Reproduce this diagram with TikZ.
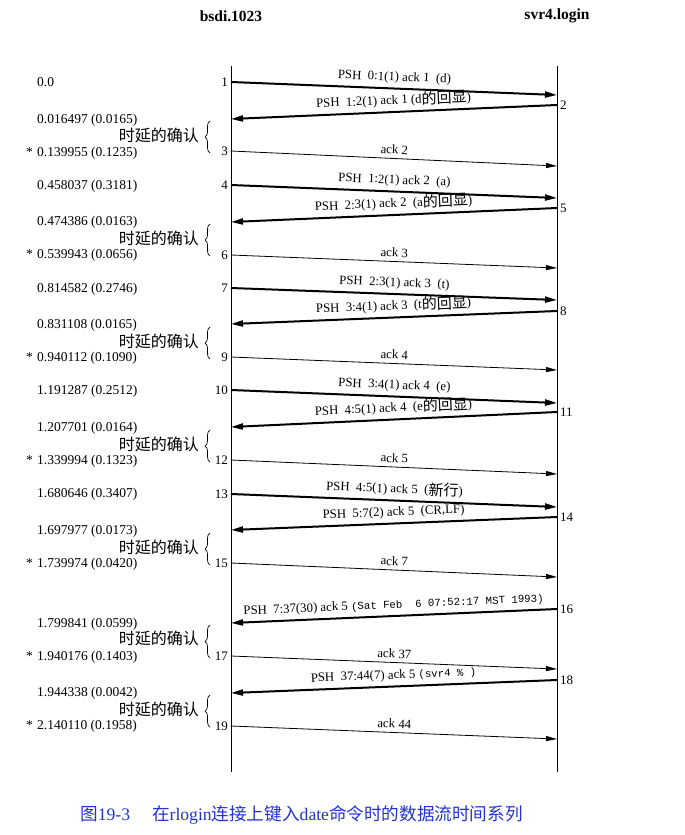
\documentclass[tikz,border=0pt]{standalone}
\usepackage{fontspec}
\setmainfont{Liberation Serif}
\setmonofont{Liberation Mono}
\newfontfamily\cjk{Noto Sans CJK SC}
\usetikzlibrary{arrows.meta,decorations.pathreplacing}
\definecolor{capblue}{RGB}{35,50,215}
\newcommand{\cj}[1]{\raisebox{-1.2pt}{\cjk\fontsize{15}{17}\selectfont #1}}
\newcommand{\mono}[1]{{\fontsize{10.7}{12}\ttfamily #1}}
\tikzset{
  life/.style={line width=0.9pt},
  heavy/.style={line width=2pt,-{Triangle[length=12pt,width=6pt]}},
  thinarr/.style={line width=0.8pt,-{Triangle[length=11pt,width=5pt]}},
  lbl/.style={midway,sloped,above=3pt,inner sep=1pt,font=\fontsize{12.8}{14}\selectfont},
  numL/.style={anchor=base east,inner sep=0pt,font=\fontsize{13}{15}\selectfont},
  numR/.style={anchor=base west,inner sep=0pt,font=\fontsize{13}{15}\selectfont},
  tm/.style={anchor=base west,inner sep=0pt,font=\fontsize{13.5}{15}\selectfont},
  dly/.style={anchor=east,inner sep=0pt,font=\cjk\fontsize{16}{18}\selectfont},
  brc/.style={decorate,decoration={brace,amplitude=5pt},line width=0.7pt},
  head/.style={inner sep=0pt,font=\bfseries\fontsize{15.5}{17}\selectfont},
  captxt/.style={anchor=west,inner sep=0pt,text=capblue,font=\fontsize{17.6}{19}\selectfont},
}
\begin{document}
\begin{tikzpicture}[x=1pt,y=-1pt]
\useasboundingbox (0,0) rectangle (685,835);
% headers
\node[head] (hL) at (231,16) {bsdi.1023};
\node[head] (hR) at (557,16) {svr4.login};
% lifelines
\coordinate (Ltop) at (231,66); \coordinate (Lbot) at (231,772);
\coordinate (Rtop) at (557,66); \coordinate (Rbot) at (557,772);
\draw[life] (Ltop) -- (Lbot);
\draw[life] (Rtop) -- (Rbot);
% message end points
\coordinate (a1) at (231,82);  \coordinate (b1) at (557,95);
\coordinate (b2) at (557,105); \coordinate (a2) at (231,119);
\coordinate (a3) at (231,151); \coordinate (b3) at (557,166);
\coordinate (a4) at (231,185); \coordinate (b4) at (557,198);
\coordinate (b5) at (557,208); \coordinate (a5) at (231,222);
\coordinate (a6) at (231,255); \coordinate (b6) at (557,268);
\coordinate (a7) at (231,288); \coordinate (b7) at (557,300);
\coordinate (b8) at (557,311); \coordinate (a8) at (231,324);
\coordinate (a9) at (231,357); \coordinate (b9) at (557,370);
\coordinate (a10) at (231,390); \coordinate (b10) at (557,403);
\coordinate (b11) at (557,412); \coordinate (a11) at (231,427);
\coordinate (a12) at (231,460); \coordinate (b12) at (557,474);
\coordinate (a13) at (231,494); \coordinate (b13) at (557,507);
\coordinate (b14) at (557,517); \coordinate (a14) at (231,530);
\coordinate (a15) at (231,563); \coordinate (b15) at (557,577);
\coordinate (b16) at (557,609); \coordinate (a16) at (231,623);
\coordinate (a17) at (231,656); \coordinate (b17) at (557,669);
\coordinate (b18) at (557,680); \coordinate (a18) at (231,693);
\coordinate (a19) at (231,726); \coordinate (b19) at (557,739);
% messages
\draw[heavy] (a1) -- (b1) node[lbl] (m1) {PSH\ \ 0:1(1) ack 1\ \ (d)};
\draw[heavy] (b2) -- (a2) node[lbl] (m2) {PSH\ \ 1:2(1) ack 1 (d\cj{的回显})};
\draw[thinarr] (a3) -- (b3) node[lbl] (m3) {ack 2};
\draw[heavy] (a4) -- (b4) node[lbl] (m4) {PSH\ \ 1:2(1) ack 2\ \ (a)};
\draw[heavy] (b5) -- (a5) node[lbl] (m5) {PSH\ \ 2:3(1) ack 2\ \ (a\cj{的回显})};
\draw[thinarr] (a6) -- (b6) node[lbl] (m6) {ack 3};
\draw[heavy] (a7) -- (b7) node[lbl] (m7) {PSH\ \ 2:3(1) ack 3\ \ (t)};
\draw[heavy] (b8) -- (a8) node[lbl] (m8) {PSH\ \ 3:4(1) ack 3\ \ (t\cj{的回显})};
\draw[thinarr] (a9) -- (b9) node[lbl] (m9) {ack 4};
\draw[heavy] (a10) -- (b10) node[lbl] (m10) {PSH\ \ 3:4(1) ack 4\ \ (e)};
\draw[heavy] (b11) -- (a11) node[lbl] (m11) {PSH\ \ 4:5(1) ack 4\ \ (e\cj{的回显})};
\draw[thinarr] (a12) -- (b12) node[lbl] (m12) {ack 5};
\draw[heavy] (a13) -- (b13) node[lbl] (m13) {PSH\ \ 4:5(1) ack 5\ \ (\cj{新行})};
\draw[heavy] (b14) -- (a14) node[lbl] (m14) {PSH\ \ 5:7(2) ack 5\ \ (CR,LF)};
\draw[thinarr] (a15) -- (b15) node[lbl] (m15) {ack 7};
\draw[heavy] (b16) -- (a16) node[lbl] (m16) {PSH\ \ 7:37(30) ack 5 \mono{(Sat Feb\ \ 6 07:52:17 MST 1993)}};
\draw[thinarr] (a17) -- (b17) node[lbl] (m17) {ack 37};
\draw[heavy] (b18) -- (a18) node[lbl] (m18) {PSH\ \ 37:44(7) ack 5 \mono{(svr4 \% )}};
\draw[thinarr] (a19) -- (b19) node[lbl] (m19) {ack 44};
% segment numbers
\node[numL] (n1) at (228,86) {1};
\node[numR] (n2) at (560,109) {2};
\node[numL] (n3) at (228,155) {3};
\node[numL] (n4) at (228,189) {4};
\node[numR] (n5) at (560,212) {5};
\node[numL] (n6) at (228,259) {6};
\node[numL] (n7) at (228,292) {7};
\node[numR] (n8) at (560,315) {8};
\node[numL] (n9) at (228,361) {9};
\node[numL] (n10) at (228,394) {10};
\node[numR] (n11) at (560,416) {11};
\node[numL] (n12) at (228,464) {12};
\node[numL] (n13) at (228,498) {13};
\node[numR] (n14) at (560,521) {14};
\node[numL] (n15) at (228,567) {15};
\node[numR] (n16) at (560,613) {16};
\node[numL] (n17) at (228,660) {17};
\node[numR] (n18) at (560,684) {18};
\node[numL] (n19) at (228,730) {19};
% times
\node[tm] (t1) at (37,86) {0.0};
\node[tm] (t2) at (37,123) {0.016497 (0.0165)};
\node[tm] (t3) at (37,156) {0.139955 (0.1235)};
\node[tm] (t4) at (37,189) {0.458037 (0.3181)};
\node[tm] (t5) at (37,225) {0.474386 (0.0163)};
\node[tm] (t6) at (37,258) {0.539943 (0.0656)};
\node[tm] (t7) at (37,292) {0.814582 (0.2746)};
\node[tm] (t8) at (37,328) {0.831108 (0.0165)};
\node[tm] (t9) at (37,361) {0.940112 (0.1090)};
\node[tm] (t10) at (37,394) {1.191287 (0.2512)};
\node[tm] (t11) at (37,431) {1.207701 (0.0164)};
\node[tm] (t12) at (37,464) {1.339994 (0.1323)};
\node[tm] (t13) at (37,497) {1.680646 (0.3407)};
\node[tm] (t14) at (37,534) {1.697977 (0.0173)};
\node[tm] (t15) at (37,567) {1.739974 (0.0420)};
\node[tm] (t16) at (37,627) {1.799841 (0.0599)};
\node[tm] (t17) at (37,660) {1.940176 (0.1403)};
\node[tm] (t18) at (37,696) {1.944338 (0.0042)};
\node[tm] (t19) at (37,729) {2.140110 (0.1958)};
% stars
\node[tm] (s3) at (26,156) {*};
\node[tm] (s6) at (26,258) {*};
\node[tm] (s9) at (26,361) {*};
\node[tm] (s12) at (26,464) {*};
\node[tm] (s15) at (26,567) {*};
\node[tm] (s17) at (26,660) {*};
\node[tm] (s19) at (26,729) {*};
% delayed acks
\node[dly] (d1) at (199,135) {时延的确认};
\node[dly] (d2) at (199,238) {时延的确认};
\node[dly] (d3) at (199,341) {时延的确认};
\node[dly] (d4) at (199,444) {时延的确认};
\node[dly] (d5) at (199,547) {时延的确认};
\node[dly] (d6) at (199,638) {时延的确认};
\node[dly] (d7) at (199,709) {时延的确认};
\coordinate (e1b) at (210,153); \coordinate (e1t) at (210,121);
\coordinate (e2b) at (210,256); \coordinate (e2t) at (210,224);
\coordinate (e3b) at (210,359); \coordinate (e3t) at (210,327);
\coordinate (e4b) at (210,462); \coordinate (e4t) at (210,430);
\coordinate (e5b) at (210,565); \coordinate (e5t) at (210,533);
\coordinate (e6b) at (210,658); \coordinate (e6t) at (210,625);
\coordinate (e7b) at (210,727); \coordinate (e7t) at (210,695);
\draw[brc] (e1b) -- (e1t);
\draw[brc] (e2b) -- (e2t);
\draw[brc] (e3b) -- (e3t);
\draw[brc] (e4b) -- (e4t);
\draw[brc] (e5b) -- (e5t);
\draw[brc] (e6b) -- (e6t);
\draw[brc] (e7b) -- (e7t);
% caption
\node[captxt] (caption) at (80,815) {{\cjk 图}19-3\hspace{22pt}{\cjk 在}rlogin{\cjk 连接上键入}date{\cjk 命令时的数据流时间系列}};
\end{tikzpicture}
\end{document}
